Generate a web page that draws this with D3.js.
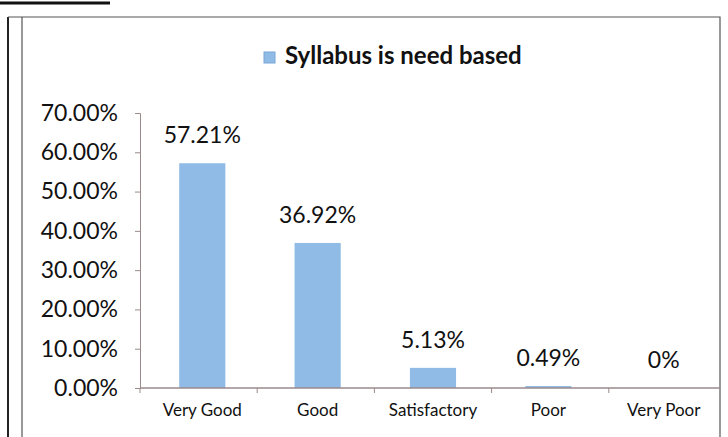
<!DOCTYPE html>
<meta charset="utf-8">
<style>
body { margin: 0; background: #fff; }
svg { display: block; font-family: Lato, "Open Sans", sans-serif; }
</style>
<svg width="728" height="437"></svg>
<script src="https://d3js.org/d3.v7.min.js"></script>
<script>

var categories = ["Very Good", "Good", "Satisfactory", "Poor", "Very Poor"],
    values = [57.21, 36.92, 5.13, 0.49, 0],
    valueLabels = ["57.21%", "36.92%", "5.13%", "0.49%", "0%"],
    yTicks = [0, 10, 20, 30, 40, 50, 60, 70],
    title = "Syllabus is need based";

var svg = d3.select("svg");

var barColor = "#8fbbe6",
    axisColor = "#9a8a8c";

// page scraps: heavy rule top left, frame lines
svg.append("line")
    .attr("x1", 0).attr("x2", 110).attr("y1", 3).attr("y2", 3)
    .attr("stroke", "#111").attr("stroke-width", 3);
svg.append("line")
    .attr("x1", 8).attr("x2", 8).attr("y1", 17).attr("y2", 437)
    .attr("stroke", "#222").attr("stroke-width", 2);
svg.append("path")
    .attr("d", "M8,17H720V437M22,17V437")
    .attr("fill", "none").attr("stroke", "#555").attr("stroke-width", 1.2);

var x = d3.scaleBand()
    .domain(categories)
    .range([140, 726])
    .paddingInner(0.6)
    .paddingOuter(0.34);

var y = d3.scaleLinear()
    .domain([0, 70])
    .range([388, 113]);

// bars
svg.selectAll("rect.bar")
    .data(values)
  .enter().append("rect")
    .attr("class", "bar")
    .attr("x", function(d, i) { return x(categories[i]); })
    .attr("y", function(d) { return y(d); })
    .attr("width", x.bandwidth())
    .attr("height", function(d) { return y(0) - y(d); })
    .attr("fill", barColor);

// y axis
var yAxis = svg.append("g")
    .attr("transform", "translate(140,0)")
    .call(d3.axisLeft(y).tickValues(yTicks).tickSize(5).tickPadding(17)
      .tickFormat(function(d) { return d.toFixed(2) + "%"; }));
yAxis.select(".domain").attr("stroke", axisColor);
yAxis.selectAll(".tick line").attr("stroke", axisColor);
yAxis.selectAll("text").attr("font-size", 23).attr("fill", "#111")
    .attr("font-family", "Lato, sans-serif");

// x axis
var step = 586 / categories.length;
var xAxis = svg.append("g")
    .attr("transform", "translate(0,388)");
xAxis.append("line")
    .attr("x1", 140).attr("x2", 720)
    .attr("stroke", axisColor).attr("stroke-width", 1.5);
xAxis.selectAll("line.tick")
    .data(d3.range(categories.length))
  .enter().append("line")
    .attr("class", "tick")
    .attr("x1", function(i) { return 140 + i * step; })
    .attr("x2", function(i) { return 140 + i * step; })
    .attr("y1", 0).attr("y2", 5)
    .attr("stroke", axisColor);
xAxis.selectAll("text")
    .data(categories)
  .enter().append("text")
    .attr("x", function(d) { return x(d) + x.bandwidth() / 2; })
    .attr("y", 28)
    .attr("text-anchor", "middle")
    .attr("font-size", 17)
    .attr("fill", "#111")
    .text(function(d) { return d; });

// value labels
svg.selectAll("text.val")
    .data(values)
  .enter().append("text")
    .attr("class", "val")
    .attr("x", function(d, i) { return x(categories[i]) + x.bandwidth() / 2; })
    .attr("y", function(d) { return y(d) - 20; })
    .attr("text-anchor", "middle")
    .attr("font-size", 23)
    .attr("fill", "#111")
    .text(function(d, i) { return valueLabels[i]; });

// legend / title
var leg = svg.append("g").attr("transform", "translate(264,52)");
leg.append("rect")
    .attr("width", 11).attr("height", 11)
    .attr("fill", barColor).attr("stroke", "#7aa6d8");
leg.append("text")
    .attr("x", 21).attr("y", 12)
    .attr("font-size", 24)
    .attr("font-weight", "bold")
    .attr("fill", "#111")
    .text(title);

</script>
